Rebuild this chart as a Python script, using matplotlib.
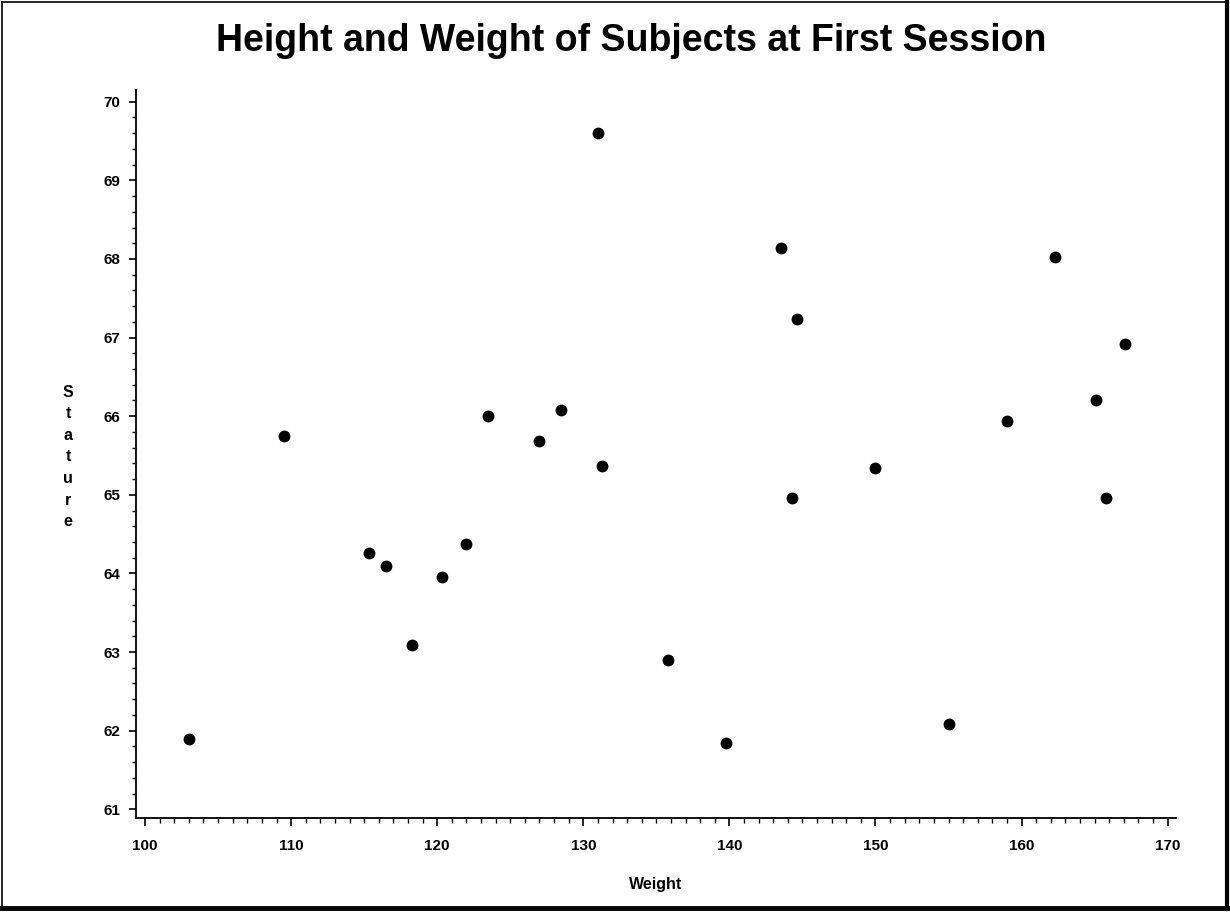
import matplotlib
matplotlib.use("Agg")
import matplotlib.pyplot as plt
from matplotlib.ticker import MultipleLocator
from matplotlib.lines import Line2D

weight = [103.0, 109.5, 115.3, 116.5, 118.3, 120.3, 122.0, 123.5, 127.0, 128.5,
          131.0, 131.3, 135.8, 139.8, 143.5, 144.6, 144.3, 150.0, 155.0, 159.0,
          162.3, 165.1, 165.8, 167.1]
stature = [61.89, 65.75, 64.26, 64.10, 63.09, 63.95, 64.38, 66.00, 65.68, 66.08,
           69.60, 65.37, 62.90, 61.84, 68.14, 67.23, 64.96, 65.34, 62.08, 65.94,
           68.03, 66.21, 64.96, 66.92]
x_ticks = [100, 110, 120, 130, 140, 150, 160, 170]
y_ticks = [61, 62, 63, 64, 65, 66, 67, 68, 69, 70]

title = "Height and Weight of Subjects at First Session"
xlabel = "Weight"
ylabel = "Stature"

plt.rcParams['font.family'] = ['Liberation Sans', 'DejaVu Sans']

fig = plt.figure(figsize=(12.3, 9.15), dpi=100)
ax = fig.add_axes([136/1230, 1 - 817.7/915, (1176-136)/1230, (817.7-90)/915])

ax.plot(weight, stature, 'o', color='black', markersize=7.5, linestyle='none')

ax.set_xlim(99.38, 170.57)
ax.set_ylim(60.893, 70.149)
ax.set_xticks(x_ticks)
ax.set_yticks(y_ticks)
ax.xaxis.set_minor_locator(MultipleLocator(1))
ax.yaxis.set_minor_locator(MultipleLocator(0.2))

for s in ['top', 'right']:
    ax.spines[s].set_visible(False)
for s in ['left', 'bottom']:
    ax.spines[s].set_linewidth(1.3)

ax.tick_params(axis='x', which='major', direction='out', length=6, width=1.2, pad=9, labelsize=11)
ax.tick_params(axis='x', which='minor', direction='out', length=3.5, width=1.0)
ax.tick_params(axis='y', which='major', direction='out', length=5, width=1.2, pad=6, labelsize=11)
ax.tick_params(axis='y', which='minor', direction='out', length=3, width=1.0)
for lab in ax.get_xticklabels() + ax.get_yticklabels():
    lab.set_fontweight('bold')

fig.text(631/1230, 1 - 41/915, title, ha='center', va='center',
         fontsize=27, fontweight='bold')
fig.text(656/1230, 1 - 885/915, xlabel, ha='center', va='center',
         fontsize=11.5, fontweight='bold')
fig.text(68/1230, 1 - 457/915, "\n".join(ylabel), ha='center', va='center',
         fontsize=11.5, fontweight='bold', linespacing=1.55)

# border frame with heavier right/bottom edge
fig.add_artist(Line2D([2/1230, 1226/1230], [1 - 2/915, 1 - 2/915], transform=fig.transFigure, color='black', lw=1.2))
fig.add_artist(Line2D([2/1230, 2/1230], [1 - 2/915, 1 - 907/915], transform=fig.transFigure, color='black', lw=1.2))
fig.add_artist(Line2D([1227/1230, 1227/1230], [1 - 2/915, 1 - 909/915], transform=fig.transFigure, color='black', lw=3))
fig.add_artist(Line2D([2/1230, 1228/1230], [1 - 908/915, 1 - 908/915], transform=fig.transFigure, color='black', lw=3.5))

fig.savefig("out.png", dpi=100, facecolor='white')
